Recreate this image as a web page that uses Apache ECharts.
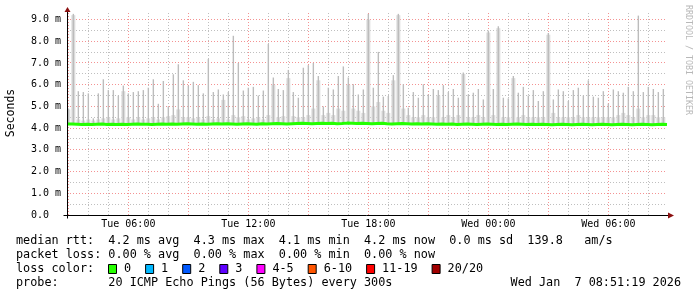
<!DOCTYPE html>
<html><head><meta charset="utf-8">
<script src="https://cdn.jsdelivr.net/npm/echarts@6/dist/echarts.min.js"></script>
<style>html,body{margin:0;padding:0;background:#fff}#c{width:697px;height:297px}</style>
</head><body><div id="c"></div>
<script>
// ---- time frame (minutes since Tue 00:00) ----
const X_START = 176, X_END = 1976;
const Y_MAX = 9.3;

// ---- tick labels ----
const xLabelValues = [360, 720, 1080, 1440, 1800];
const xLabelNames = ['Tue 06:00', 'Tue 12:00', 'Tue 18:00', 'Wed 00:00', 'Wed 06:00'];
const yTickValues = [0, 1, 2, 3, 4, 5, 6, 7, 8, 9];
const yTickNames = ['0.0  ', '1.0 m', '2.0 m', '3.0 m', '4.0 m', '5.0 m', '6.0 m', '7.0 m', '8.0 m', '9.0 m'];

// ---- grid lines ----
const xMinorGrid = [180,240,300,360,420,480,540,600,660,720,780,840,900,960,1020,1080,1140,1200,1260,1320,1380,1440,1500,1560,1620,1680,1740,1800,1860,1920];
const xMajorGrid = [180,360,540,720,900,1080,1260,1440,1620,1800];
const yMinorGrid = [0.5,1.5,2.5,3.5,4.5,5.5,6.5,7.5,8.5];
const yMajorGrid = [1,2,3,4,5,6,7,8,9];

// ---- median rtt (ms), one value per 15 min starting 02:56 ----
const medianStart = 176, medianStep = 15;
const medianRtt = [
 4.19,4.18,4.17,4.18,4.17,4.18,4.19,4.17,4.18,4.17,
 4.18,4.17,4.18,4.19,4.18,4.18,4.17,4.18,4.19,4.18,
 4.19,4.18,4.19,4.20,4.19,4.18,4.19,4.18,4.19,4.20,
 4.19,4.20,4.19,4.18,4.19,4.20,4.19,4.18,4.20,4.19,
 4.20,4.21,4.20,4.19,4.20,4.21,4.22,4.21,4.20,4.21,
 4.22,4.21,4.22,4.20,4.21,4.23,4.22,4.21,4.22,4.21,
 4.20,4.21,4.22,4.20,4.19,4.20,4.21,4.20,4.19,4.20,
 4.19,4.20,4.19,4.18,4.19,4.18,4.19,4.17,4.18,4.19,
 4.18,4.17,4.18,4.19,4.18,4.17,4.18,4.17,4.18,4.19,
 4.18,4.17,4.18,4.17,4.18,4.17,4.16,4.17,4.18,4.17,
 4.16,4.17,4.18,4.17,4.16,4.17,4.18,4.17,4.16,4.17,
 4.18,4.17,4.16,4.17,4.18,4.17,4.16,4.17,4.18,4.17,
 4.17];

// ---- smoke (ms), one value per 15 min starting 03:00 ----
const smokeStart = 180, smokeStep = 15;
const smokeMax = [
 4.90,9.26,5.70,5.66,5.60,4.45,5.60,6.25,5.75,5.75,5.50,5.96,5.60,5.66,5.70,5.75,5.86,6.25,5.12,6.17,5.00,6.48,6.94,6.20,
 5.96,6.13,5.98,5.60,7.18,5.66,5.78,5.55,5.66,8.25,7.00,5.73,5.86,5.90,5.50,5.73,7.87,6.33,5.80,5.75,6.68,5.66,5.40,6.78,
 6.90,7.00,6.40,5.00,5.86,5.78,6.40,6.84,6.33,6.02,5.55,5.78,9.26,5.86,7.51,5.45,5.48,6.44,9.26,6.02,4.94,5.66,5.40,6.02,
 5.55,5.80,5.75,5.98,5.66,5.80,5.40,6.56,5.55,5.63,5.80,5.32,8.49,5.80,8.69,5.40,5.37,6.40,5.63,5.90,5.50,5.75,5.25,5.70,
 8.38,5.32,5.78,5.70,5.25,5.75,5.86,5.50,6.20,5.45,5.40,5.70,5.13,5.78,5.70,5.63,5.90,5.70,9.18,5.66,5.90,5.80,5.66,5.80];
const smokeWide = [
 4.86,9.20,4.40,4.35,4.40,4.35,4.40,4.45,4.50,4.40,4.45,5.70,4.50,4.40,4.50,4.40,4.45,4.50,4.40,4.50,4.55,4.60,4.86,4.50,
 4.50,4.45,4.50,4.40,4.55,4.40,4.45,5.30,4.40,4.60,4.50,4.55,4.40,4.45,4.50,4.40,4.60,6.00,4.50,4.55,6.30,4.55,4.50,4.50,
 4.60,4.90,6.20,4.60,4.70,4.60,4.90,4.80,6.00,4.90,4.80,4.70,9.00,5.00,5.20,4.80,4.70,6.20,9.20,4.90,4.60,4.50,4.50,4.60,
 4.50,4.50,5.50,4.50,4.60,4.50,4.60,6.50,4.50,4.50,4.60,4.50,8.40,4.60,8.60,4.50,4.50,6.30,4.50,4.60,4.50,4.50,4.50,4.50,
 8.30,4.70,4.50,4.50,4.50,4.50,4.60,4.50,4.50,4.50,4.50,4.50,4.50,4.50,4.60,4.70,4.60,4.50,4.90,4.50,4.60,4.60,4.50,4.50];

// ---- legend texts ----
const legendLine1 = 'median rtt:  4.2 ms avg  4.3 ms max  4.1 ms min  4.2 ms now  0.0 ms sd  139.8   am/s';
const legendLine2 = 'packet loss: 0.00 % avg  0.00 % max  0.00 % min  0.00 % now';
const lossLabels = ['0', '1', '2', '3', '4-5', '6-10', '11-19', '20/20'];
const lossColors = ['#26ff00', '#00b8ff', '#0059ff', '#5e00ff', '#ff00ff', '#ff5500', '#ff0000', '#a10000'];
const probeText = 'probe:       20 ICMP Echo Pings (56 Bytes) every 300s';
const stampText = 'Wed Jan  7 08:51:19 2026';

// ---- build series data ----
const medianData = medianRtt.map((v, i) => [medianStart + i * medianStep, v]);
const smokeData = smokeMax.map((v, i) => {
  const t = smokeStart + i * smokeStep;
  const base = medianRtt[Math.round((t - medianStart) / medianStep)];
  return [t, base, smokeWide[i], v];
});

const MONO = '"DejaVu Sans Mono", monospace';
const CH = 7.1; // legend char advance

const chart = echarts.init(document.getElementById('c'), null, {renderer: 'canvas'});

function crisp(v) { return Math.round(v - 0.5) + 0.5; }

const gridRender = function (params, api) {
  const ch = [];
  const majorStroke = 'rgba(240,110,110,0.75)';
  const minorStroke = 'rgba(170,170,170,0.75)';
  xMinorGrid.forEach(t => {
    if (xMajorGrid.indexOf(t) >= 0) return;
    const a = api.coord([t, 0]), b = api.coord([t, Y_MAX]);
    const x = crisp(a[0]);
    ch.push({type: 'line', shape: {x1: x, y1: a[1], x2: x, y2: b[1]}, style: {stroke: minorStroke, lineWidth: 1, lineDash: [1, 2]}});
  });
  yMinorGrid.forEach(v => {
    const a = api.coord([X_START, v]), b = api.coord([X_END, v]);
    const y = crisp(a[1]);
    ch.push({type: 'line', shape: {x1: a[0], y1: y, x2: b[0], y2: y}, style: {stroke: minorStroke, lineWidth: 1, lineDash: [1, 2]}});
  });
  xMajorGrid.forEach(t => {
    const a = api.coord([t, 0]), b = api.coord([t, Y_MAX]);
    const x = crisp(a[0]);
    ch.push({type: 'line', shape: {x1: x, y1: a[1], x2: x, y2: b[1]}, style: {stroke: majorStroke, lineWidth: 1, lineDash: [1, 2]}});
  });
  yMajorGrid.forEach(v => {
    const a = api.coord([X_START, v]), b = api.coord([X_END, v]);
    const y = crisp(a[1]);
    ch.push({type: 'line', shape: {x1: a[0], y1: y, x2: b[0], y2: y}, style: {stroke: majorStroke, lineWidth: 1, lineDash: [1, 2]}});
  });
  return {type: 'group', children: ch};
};

const axisRender = function (params, api) {
  const o = api.coord([X_START, 0]);
  const xe = api.coord([X_END, 0]);
  const yt = api.coord([X_START, Y_MAX]);
  const x0 = crisp(o[0]), y0 = crisp(o[1]);
  const ch = [];
  ch.push({type: 'line', shape: {x1: x0 - 4, y1: y0, x2: xe[0] + 2, y2: y0}, style: {stroke: '#000', lineWidth: 1}});
  ch.push({type: 'line', shape: {x1: x0, y1: y0 + 3, x2: x0, y2: yt[1] - 2}, style: {stroke: '#000', lineWidth: 1}});
  ch.push({type: 'polygon', shape: {points: [[xe[0] + 1, y0 - 3], [xe[0] + 7, y0], [xe[0] + 1, y0 + 3]]}, style: {fill: '#8b1010'}});
  ch.push({type: 'polygon', shape: {points: [[x0 - 3, yt[1] - 1], [x0, yt[1] - 6], [x0 + 3, yt[1] - 1]]}, style: {fill: '#8b1010'}});
  return {type: 'group', children: ch};
};

const smokeRender = function (params, api) {
  const t = api.value(0);
  const b = api.coord([t, api.value(1)]);
  const w = api.coord([t, api.value(2)]);
  const m = api.coord([t, api.value(3)]);
  return {type: 'group', children: [
    {type: 'rect', shape: {x: b[0] - 2, y: w[1], width: 4, height: b[1] - w[1]}, style: {fill: '#dcdcdc'}},
    {type: 'rect', shape: {x: b[0] - 0.7, y: m[1], width: 1.4, height: b[1] - m[1]}, style: {fill: '#bcbcbc'}}
  ]};
};

const graphics = [];
graphics.push({type: 'text', x: 16, y: 241, style: {text: legendLine1, font: '11.8px ' + MONO, fill: '#000', verticalAlign: 'middle'}});
graphics.push({type: 'text', x: 16, y: 255, style: {text: legendLine2, font: '11.8px ' + MONO, fill: '#000', verticalAlign: 'middle'}});
graphics.push({type: 'text', x: 16, y: 269, style: {text: 'loss color:', font: '11.8px ' + MONO, fill: '#000', verticalAlign: 'middle'}});
let bx = 108;
lossLabels.forEach((lab, i) => {
  graphics.push({type: 'rect', shape: {x: bx + 0.5, y: 264.5, width: 8, height: 9}, style: {fill: lossColors[i], stroke: '#000', lineWidth: 1}});
  graphics.push({type: 'text', x: bx + 16, y: 269, style: {text: lab, font: '11.8px ' + MONO, fill: '#000', verticalAlign: 'middle'}});
  bx = bx + 16 + lab.length * CH + 14;
});
graphics.push({type: 'text', x: 16, y: 283, style: {text: probeText, font: '11.8px ' + MONO, fill: '#000', verticalAlign: 'middle'}});
graphics.push({type: 'text', x: 681, y: 283, style: {text: stampText, font: '11.8px ' + MONO, fill: '#000', align: 'right', verticalAlign: 'middle'}});
graphics.push({type: 'text', x: 11, y: 113, rotation: Math.PI / 2, style: {text: 'Seconds', font: '11.5px ' + MONO, fill: '#000', align: 'center', verticalAlign: 'middle'}});
graphics.push({type: 'text', x: 688, y: 60, rotation: -Math.PI / 2, style: {text: 'RRDTOOL / TOBI OETIKER', font: '8.3px ' + MONO, fill: '#b8b8b8', align: 'center', verticalAlign: 'middle'}});

chart.setOption({
  animation: false,
  backgroundColor: '#fff',
  grid: {left: 67, right: 30, top: 13, bottom: 82, containLabel: false},
  xAxis: {
    type: 'value', min: X_START, max: X_END,
    axisLine: {show: false}, axisTick: {show: false}, splitLine: {show: false},
    axisLabel: {
      customValues: xLabelValues,
      formatter: v => xLabelNames[xLabelValues.indexOf(v)] || '',
      fontFamily: 'DejaVu Sans Mono', fontSize: 10, color: '#000', margin: 4,
      showMinLabel: true, showMaxLabel: true
    }
  },
  yAxis: {
    type: 'value', min: 0, max: Y_MAX,
    axisLine: {show: false}, axisTick: {show: false}, splitLine: {show: false},
    axisLabel: {
      customValues: yTickValues,
      formatter: v => yTickNames[yTickValues.indexOf(v)] || '',
      fontFamily: 'DejaVu Sans Mono', fontSize: 10, color: '#000', margin: 6
    }
  },
  graphic: graphics,
  series: [
    {type: 'custom', z: 1, clip: false, renderItem: gridRender, data: [[X_START, 0]], encode: {x: 0, y: 1}, silent: true},
    {type: 'custom', z: 2, clip: true, renderItem: smokeRender, data: smokeData, encode: {x: 0, y: [1, 2, 3]}, silent: true},
    {type: 'line', z: 3, data: medianData, step: 'end', symbol: 'none', lineStyle: {color: '#26ff00', width: 3}, silent: true},
    {type: 'custom', z: 4, clip: false, renderItem: axisRender, data: [[X_START, 0]], encode: {x: 0, y: 1}, silent: true}
  ]
});
</script>
</body></html>
